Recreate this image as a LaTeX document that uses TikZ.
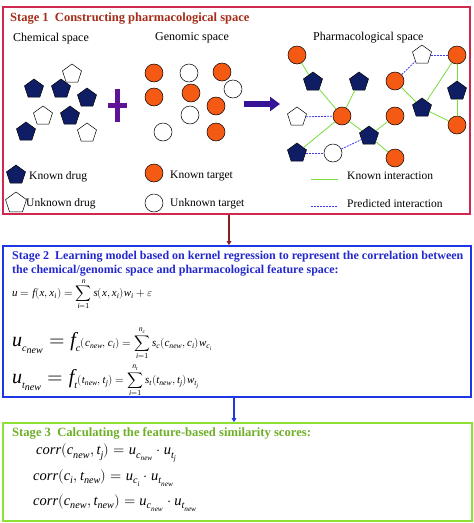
\documentclass[tikz,border=0pt]{standalone}
\usepackage{fontspec}
\usepackage{unicode-math}
\setmainfont{Liberation Serif}
\setmathfont{Latin Modern Math}
\setmathfont{Liberation Serif Italic}[range=it/{latin,Latin}]
\usetikzlibrary{shapes.geometric,arrows.meta}
\definecolor{sonered}{RGB}{208,40,78}
\definecolor{sonetitle}{RGB}{165,45,25}
\definecolor{drugblue}{RGB}{15,30,100}
\definecolor{targetorange}{RGB}{245,90,20}
\definecolor{plusviolet}{RGB}{95,20,150}
\definecolor{arrowviolet}{RGB}{55,20,150}
\definecolor{knowngreen}{RGB}{120,220,60}
\definecolor{predblue}{RGB}{60,60,230}
\definecolor{stwoblue}{RGB}{30,55,230}
\definecolor{stwotitle}{RGB}{35,40,205}
\definecolor{sthreegreen}{RGB}{140,225,50}
\definecolor{sthreetitle}{RGB}{110,175,40}
\definecolor{linkred}{RGB}{140,30,30}
\begin{document}
\begin{tikzpicture}[x=1pt,y=-1pt,
	drug/.style={regular polygon,regular polygon sides=5,draw=black,line width=.5pt,fill=drugblue,minimum size=20pt,inner sep=0pt},
	udrug/.style={drug,fill=white},
	target/.style={circle,draw=black,line width=.5pt,fill=targetorange,minimum size=18pt,inner sep=0pt},
	utarget/.style={target,fill=white},
	known/.style={draw=knowngreen,line width=.8pt},
	pred/.style={draw=predblue,line width=.8pt,dash pattern=on 2pt off 1pt},
	lbl/.style={anchor=west,inner sep=0pt,font=\fontsize{11.5}{13}\selectfont},
	stagebox/.style={draw,line width=1.6pt,inner sep=0pt}]
	\useasboundingbox (0,0) rectangle (474,523);
	% stage boxes
	\node[stagebox,draw=sonered,minimum width=467pt,minimum height=207pt] (s1) at (236.5,110.5) {};
	\node[stagebox,draw=stwoblue,minimum width=468pt,minimum height=151pt] (s2) at (237,321.5) {};
	\node[stagebox,draw=sthreegreen,minimum width=469pt,minimum height=98pt] (s3) at (237.5,472) {};
	\draw[linkred,line width=1.2pt,-{Triangle[length=4pt,width=4.5pt]}] ([xshift=-7.5pt]s1.south) -- ([xshift=-7.5pt]s1.south |- s2.north);
	\draw[stwoblue,line width=1.2pt,-{Triangle[length=4pt,width=4.5pt]}] ([xshift=-3pt]s2.south) -- ([xshift=-3pt]s2.south |- s3.north);
	% stage 1
	\node[anchor=west,inner sep=0pt,text=sonetitle,font=\bfseries\fontsize{12.5}{14}\selectfont] (t1) at (10,19) {Stage 1\ \ Constructing pharmacological space};
	\node[lbl,font=\fontsize{12}{13}\selectfont] (chem) at (13,39) {Chemical space};
	\node[lbl,font=\fontsize{12}{13}\selectfont] (geno) at (155,38) {Genomic space};
	\node[lbl,font=\fontsize{12}{13}\selectfont] (phar) at (313,38) {Pharmacological space};
	\foreach \x/\y [count=\i] in {34/89,61/89,87/98,70/116,26/132}
	\node[drug] (cd\i) at (\x,\y) {};
	\foreach \x/\y [count=\i] in {72/74,43/116,87/133}
	\node[udrug] (cu\i) at (\x,\y) {};
	\foreach \x/\y [count=\i] in {154/73,222/72,154/97,191/93,216/106,216/132}
	\node[target] (gt\i) at (\x,\y) {};
	\foreach \x/\y [count=\i] in {189/73,233/89,190/115,163/132}
	\node[utarget] (gu\i) at (\x,\y) {};
	\fill[plusviolet] (114.5,89) rectangle (119.5,122);
	\fill[plusviolet] (108,102.5) rectangle (127,107.5);
	\draw[arrowviolet,line width=6pt,-{Triangle[length=10pt,width=14pt]}] (244,104) -- (280,104);
	% network
	\node[target] (o1) at (297,55) {};
	\node[drug] (d1) at (313,82) {};
	\node[drug] (d2) at (359,82) {};
	\node[udrug] (w1) at (297,117) {};
	\node[target] (o2) at (342,116) {};
	\node[drug] (d3) at (297,153) {};
	\node[utarget] (w2) at (333,153) {};
	\node[drug] (d4) at (369,136) {};
	\node[target] (o3) at (395,116) {};
	\node[target] (o4) at (395,158) {};
	\node[target] (o5) at (395,81) {};
	\node[udrug] (w3) at (422,55) {};
	\node[target] (o6) at (457,55) {};
	\node[drug] (d5) at (457,91) {};
	\node[drug] (d6) at (422,108) {};
	\node[target] (o7) at (457,125) {};
	\foreach \a/\b in {o1/d1,d1/o2,d2/o2,o2/d3,o2/d4,d4/o3,d4/o4,o5/d6,d6/o6,d6/o7,o6/d5,d5/o7}
	\draw[known] (\a) -- (\b);
	\foreach \a/\b in {w1/o2,d3/w2,w2/d4,o5/w3,w3/o6}
	\draw[pred] (\a) -- (\b);
	% legend
	\node[drug] (ld1) at (16,175) {};
	\node[udrug,minimum size=22pt] (ld2) at (16,203) {};
	\node[target] (lt1) at (154,173) {};
	\node[utarget] (lt2) at (154,203) {};
	\node[lbl] (kd) at (29,177) {Known drug};
	\node[lbl] (ud) at (26,204) {Unknown drug};
	\node[lbl] (kt) at (170,176) {Known target};
	\node[lbl] (ut) at (170,204) {Unknown target};
	\coordinate (ka) at (311,179);
	\coordinate (kb) at (338,179);
	\coordinate (pa) at (311,206);
	\coordinate (pb) at (338,206);
	\draw[known] (ka) -- (kb);
	\draw[pred] (pa) -- (pb);
	\node[lbl] (ki) at (347,176) {Known interaction};
	\node[lbl] (pi) at (347,204) {Predicted interaction};
	% stage 2
	\node[anchor=west,inner sep=0pt,align=left,text=stwotitle,font=\bfseries\fontsize{12}{14}\selectfont] (t2) at (12,264) {Stage 2\ \ Learning model based on kernel regression to represent the correlation between\\the chemical/genomic space and pharmacological feature space:};
	\node[anchor=west,inner sep=0pt,font=\fontsize{11}{13}\selectfont] (f1) at (12,294) {$u=f(x,x_i)=\displaystyle\sum_{i=1}^{n}s(x,x_i)w_i+\varepsilon$};
	\node[anchor=west,inner sep=0pt] (f2) at (12,343) {{\fontsize{20}{22}\selectfont$u_{\scriptscriptstyle c_{new}}=f_{\scriptscriptstyle c}$}{\fontsize{11}{13}\selectfont$(c_{new},c_i)=\displaystyle\sum_{i=1}^{n_c}s_c(c_{new},c_i)w_{c_i}$}};
	\node[anchor=west,inner sep=0pt] (f3) at (12,380) {{\fontsize{20}{22}\selectfont$u_{\scriptscriptstyle t_{new}}=f_{\scriptscriptstyle t}$}{\fontsize{11}{13}\selectfont$(t_{new},t_j)=\displaystyle\sum_{i=1}^{n_t}s_t(t_{new},t_j)w_{t_j}$}};
	% stage 3
	\node[anchor=west,inner sep=0pt,text=sthreetitle,font=\bfseries\fontsize{12.6}{14}\selectfont] (t3) at (12,433) {Stage 3\ \ Calculating the feature-based similarity scores:};
	\node[anchor=west,inner sep=0pt,font=\fontsize{14.5}{17}\selectfont] (g1) at (36,453) {$corr(c_{new},t_j)=u_{c_{new}}\cdot u_{t_j}$};
	\node[anchor=west,inner sep=0pt,font=\fontsize{14.5}{17}\selectfont] (g2) at (33,478) {$corr(c_i,t_{new})=u_{c_i}\cdot u_{t_{new}}$};
	\node[anchor=west,inner sep=0pt,font=\fontsize{14.5}{17}\selectfont] (g3) at (33,503) {$corr(c_{new},t_{new})=u_{c_{new}}\cdot u_{t_{new}}$};
\end{tikzpicture}
\end{document}
